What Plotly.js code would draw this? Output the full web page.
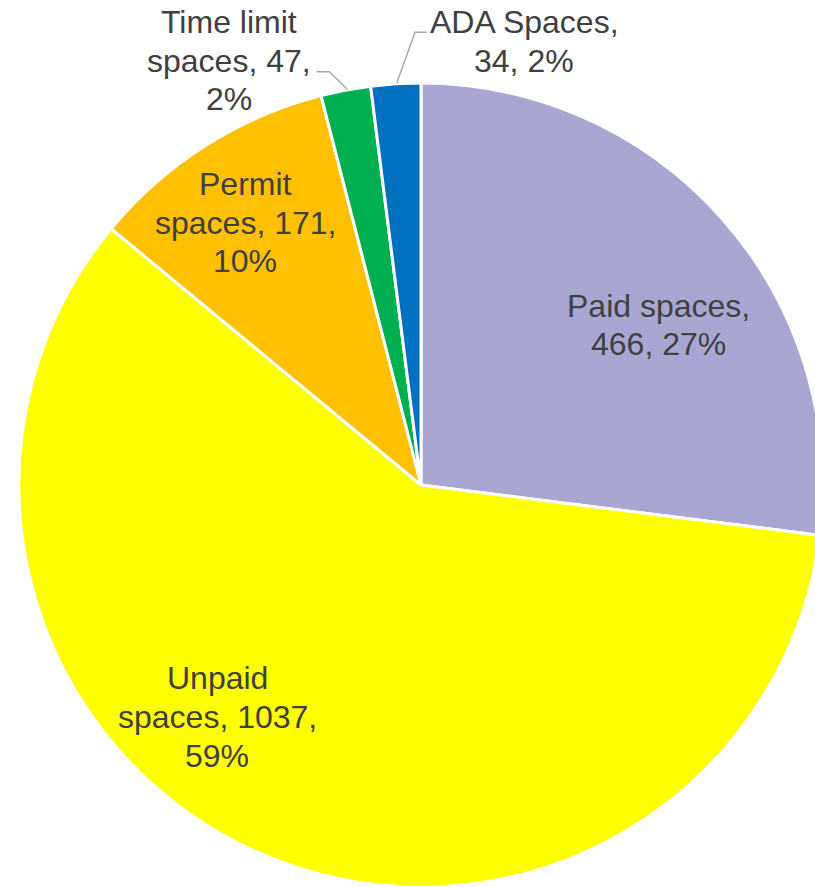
<!DOCTYPE html>
<html>
<head>
<meta charset="utf-8">
<script src="https://cdn.plot.ly/plotly-3.0.1.min.js"></script>
<style>
  html, body { margin: 0; padding: 0; background: #ffffff; overflow: hidden; width: 815px; height: 887px; }
  #chart { width: 850px; height: 900px; }
</style>
</head>
<body>
<div id="chart"></div>
<script>
// ---- Data ----
const categories = ['Paid spaces', 'Unpaid spaces', 'Permit spaces', 'Time limit spaces', 'ADA Spaces'];
const spaceCounts = [466, 1037, 171, 47, 34];
const percentShares = [27, 59, 10, 2, 2];   // slice sizes follow the shown percentages
const sliceColors = ['#A9A6D3', '#FFFF00', '#FFC000', '#00B050', '#0070C0'];

// ---- Layout helpers ----
const W = 850, H = 900, L = 19, T = 83, PW = 804, PH = 804;
const toX = px => (px - L) / PW;
const toY = py => 1 - (py - T) / PH;

// words per line for each label, and label line positions (pixels)
const lineBreaks = [[2, 2], [1, 2, 1], [1, 2, 1], [2, 2, 1], [2, 2]];
const labelX = [658, 217, 245, 229, 524];
const labelBaselines = [[317, 355], [689, 728, 767], [195, 234, 272], [33, 72, 110], [33, 72]];
const FONT_SIZE = 32;

const annotations = [];
categories.forEach((name, i) => {
  const full = name + ', ' + spaceCounts[i] + ', ' + percentShares[i] + '%';
  const words = full.split(' ');
  let k = 0;
  lineBreaks[i].forEach((n, j) => {
    const line = words.slice(k, k + n).join(' ');
    k += n;
    annotations.push({
      xref: 'paper', yref: 'paper',
      x: toX(labelX[i]),
      y: toY(labelBaselines[i][j] - 0.3465 * FONT_SIZE),
      text: line,
      showarrow: false,
      xanchor: 'center', yanchor: 'middle',
      font: { family: 'Liberation Sans, Arial, sans-serif', size: FONT_SIZE, color: '#404040' }
    });
  });
});

// leader lines for the outside labels (pixel paths)
const leaderPaths = [
  [[316.7, 71.7], [329.3, 71.7], [347.3, 89.3]],
  [[426.7, 32.3], [415, 32.3], [396.7, 83.3]]
];
const shapes = leaderPaths.map(pts => ({
  type: 'path', xref: 'paper', yref: 'paper',
  path: pts.map((p, j) => (j ? 'L' : 'M') + toX(p[0]) + ',' + toY(p[1])).join(' '),
  line: { color: '#A6A6A6', width: 1.4 }
}));

const trace = {
  type: 'pie',
  labels: categories,
  values: percentShares,
  customdata: spaceCounts,
  sort: false,
  direction: 'clockwise',
  rotation: 0,
  textinfo: 'none',
  hoverinfo: 'label+value',
  marker: { colors: sliceColors, line: { color: '#FFFFFF', width: 3 } },
  showlegend: false
};

const layout = {
  width: W, height: H,
  margin: { l: L, r: W - L - PW, t: T, b: H - T - PH },
  paper_bgcolor: '#ffffff',
  plot_bgcolor: '#ffffff',
  showlegend: false,
  annotations: annotations,
  shapes: shapes
};

Plotly.newPlot('chart', [trace], layout, { displayModeBar: false, staticPlot: true });
</script>
</body>
</html>
